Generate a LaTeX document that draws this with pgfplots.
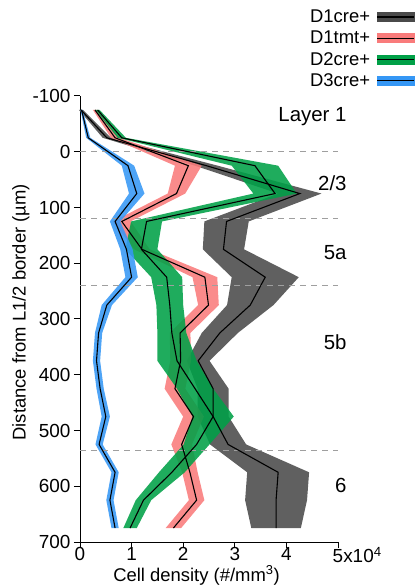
\documentclass[border=0pt]{standalone}
\usepackage{fontspec}
\setmainfont{Liberation Sans}
\usepackage{pgfplots}
\usepackage{pgfplotstable}
\pgfplotsset{compat=1.18}
\usepgfplotslibrary{fillbetween}

\definecolor{cDone}{HTML}{4A4A4A}
\definecolor{cDtmt}{HTML}{F97B7B}
\definecolor{cDtwo}{HTML}{00A047}
\definecolor{cDthree}{HTML}{3597F5}

% depth (um), mean density (x10^4 /mm^3), half-width of the shaded band
\pgfplotstableread{
d    m     s
-75  0.02  0.04
-25  0.52  0.08
25   2.45  0.22
75   4.26  0.42
125  2.84  0.43
175  2.78  0.40
225  3.59  0.65
275  3.30  0.45
325  2.71  0.35
375  2.29  0.22
425  2.58  0.30
475  2.58  0.30
525  2.87  0.35
575  3.84  0.60
625  3.80  0.60
675  3.80  0.48
}\Done

\pgfplotstableread{
d    m     s
-75  0.29  0.04
-25  0.68  0.08
25   2.10  0.26
75   1.87  0.17
125  0.81  0.17
175  1.20  0.15
225  2.42  0.24
275  2.49  0.20
325  1.94  0.20
375  1.95  0.20
425  1.84  0.20
475  2.20  0.20
525  1.97  0.20
575  2.13  0.15
625  2.26  0.15
675  1.81  0.15
}\Dtmt

\pgfplotstableread{
d    m     s
-75  0.34  0.04
-25  0.81  0.08
25   3.39  0.45
75   3.78  0.42
125  1.29  0.30
175  1.19  0.31
225  1.68  0.30
275  1.74  0.26
325  1.78  0.28
375  1.88  0.38
425  2.23  0.35
475  2.58  0.40
525  2.26  0.25
575  1.78  0.25
625  1.23  0.15
675  0.97  0.13
}\Dtwo

\pgfplotstableread{
d    m     s
-75  0.03  0.02
-25  0.16  0.04
25   0.93  0.12
75   1.10  0.15
125  0.68  0.10
175  0.90  0.12
225  1.00  0.12
275  0.52  0.10
325  0.36  0.07
375  0.32  0.07
425  0.39  0.07
475  0.50  0.08
525  0.37  0.07
575  0.68  0.07
625  0.58  0.07
675  0.68  0.07
}\Dthree

% mean line with a shaded band of +/- s around it
\newcommand\bandplot[3]{%
  \addplot[draw=none, forget plot, name path=lo#1]
    table[x expr=\thisrow{m}-\thisrow{s}, y expr=-\thisrow{d}] {#2};
  \addplot[draw=none, forget plot, name path=hi#1]
    table[x expr=\thisrow{m}+\thisrow{s}, y expr=-\thisrow{d}] {#2};
  \addplot[fill=#3, fill opacity=0.88, draw=none, forget plot]
    fill between[of=lo#1 and hi#1];
  \addplot[black, line width=1.1bp, forget plot]
    table[x=m, y expr=-\thisrow{d}] {#2};
}

% legend swatch: shaded band with its mean line, set a little apart from the text
\newcommand\legimg[1]{%
  \addlegendimage{legend image code/.code={%
    \path[draw=none, fill=none] (0bp,-0.5bp) rectangle (5bp,0.5bp);
    \fill[#1] (5bp,-4.5bp) rectangle (42bp,4.5bp);
    \draw[black, line width=1.2bp] (5bp,0bp) -- (42bp,0bp);}}}

\begin{document}
\begin{tikzpicture}
\begin{axis}[
  width=258bp, height=446bp, scale only axis,
  xmin=0, xmax=5, ymin=-700, ymax=100,
  clip=false,
  axis x line*=bottom, axis y line*=left,
  axis line style={line width=1bp, black},
  tick align=outside, major tick length=6bp,
  tick style={line width=1bp, black},
  xtick={0,1,2,3,4,5},
  xticklabels={0,1,2,3,4,5\rlap{x10\textsuperscript{4}}},
  ytick={-700,-600,-500,-400,-300,-200,-100,0,100},
  yticklabels={700,600,500,400,300,200,100,0,-100},
  tick label style={font=\fontsize{19}{22}\selectfont},
  xticklabel style={inner sep=1bp, yshift=2bp},
  /pgf/number format/assume math mode=true,
  xlabel={Cell density (\#/mm\textsuperscript{3})},
  ylabel={Distance from L1/2 border (µm)},
  label style={font=\fontsize{18.5}{21}\selectfont},
  xlabel style={at={(axis description cs:0.4516,-0.0875)}, anchor=base, inner sep=1bp},
  ylabel style={at={(axis description cs:-0.229,0.515)}, anchor=center},
  legend plot pos=right,
  legend cell align=right,
  legend style={at={(axis description cs:1.298,1.198)}, anchor=north east,
    draw=none, fill=none, inner sep=0pt, row sep=3bp,
    font=\fontsize{18.5}{21}\selectfont},
]
\legimg{cDone}\addlegendentry{D1cre+}
\legimg{cDtmt}\addlegendentry{D1tmt+}
\legimg{cDtwo}\addlegendentry{D2cre+}
\legimg{cDthree}\addlegendentry{D3cre+}

% layer borders
\addplot[gray!75, line width=1bp, dash pattern=on 6bp off 5bp, forget plot] coordinates {(0,0) (5,0)};
\addplot[gray!75, line width=1bp, dash pattern=on 6bp off 5bp, forget plot] coordinates {(0,-120) (5,-120)};
\addplot[gray!75, line width=1bp, dash pattern=on 6bp off 5bp, forget plot] coordinates {(0,-240) (5,-240)};
\addplot[gray!75, line width=1bp, dash pattern=on 6bp off 5bp, forget plot] coordinates {(0,-535) (5,-535)};

\bandplot{a}{\Done}{cDone}
\bandplot{b}{\Dtmt}{cDtmt}
\bandplot{c}{\Dtwo}{cDtwo}
\bandplot{d}{\Dthree}{cDthree}

\begin{scope}[every node/.style={anchor=east, font=\fontsize{20.5}{23}\selectfont, inner sep=0pt}]
\node at (axis cs:5.17,63) {Layer 1};
\node at (axis cs:5.17,-56) {2/3};
\node at (axis cs:5.17,-181) {5a};
\node at (axis cs:5.17,-341) {5b};
\node at (axis cs:5.17,-598) {6};
\end{scope}

\path ([shift={(-80bp,-45bp)}]axis description cs:0,0)
  rectangle ([shift={(79bp,96bp)}]axis description cs:1,1);
\end{axis}
\end{tikzpicture}
\end{document}
